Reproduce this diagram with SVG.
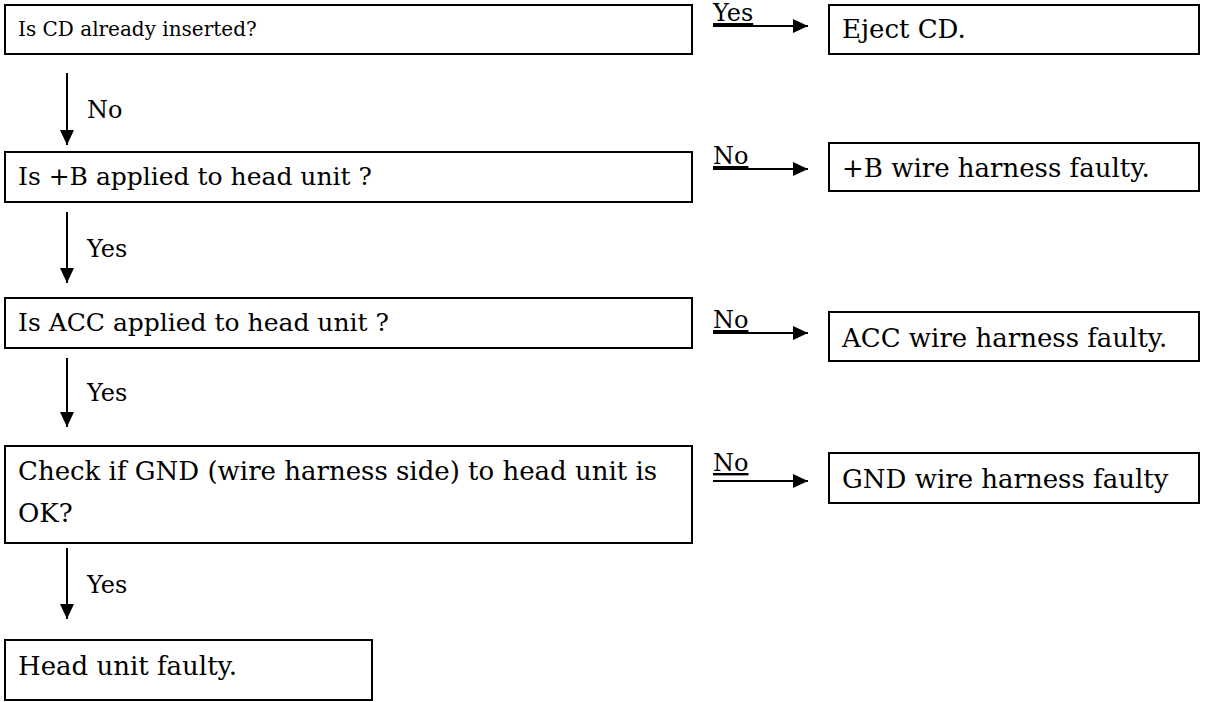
<svg xmlns="http://www.w3.org/2000/svg" width="1210" height="702" viewBox="0 0 1210 702">
<style>
.box{fill:#fff;stroke:#000;stroke-width:2}
.t{font-family:"DejaVu Serif","Liberation Serif",serif;font-size:26px;fill:#000}
.sm{font-size:20px}
.md{font-size:25px}
.lbl{font-family:"DejaVu Serif","Liberation Serif",serif;font-size:24px;fill:#000}
.u{text-decoration:underline}
.c{stroke:#000;stroke-width:2;fill:none;marker-end:url(#ah)}
</style>
<defs>
<marker id="ah" markerUnits="userSpaceOnUse" viewBox="0 0 15 14" refX="15" refY="7" markerWidth="15" markerHeight="14" orient="auto">
<path d="M0,0 L15,7 L0,14 Z" fill="#000"/>
</marker>
</defs>
<rect width="1210" height="702" fill="#fff"/>
<g id="n1"><rect class="box" x="5" y="5" width="687" height="49"/><text class="t sm" x="18" y="36">Is CD already inserted?</text></g>
<g id="n2"><rect class="box" x="829" y="5" width="370" height="49"/><text class="t" x="842" y="38">Eject CD.</text></g>
<g id="n3"><rect class="box" x="5" y="152" width="687" height="50"/><text class="t md" x="18" y="185">Is +B applied to head unit ?</text></g>
<g id="n4"><rect class="box" x="829" y="143" width="370" height="48"/><text class="t" x="842" y="177">+B wire harness faulty.</text></g>
<g id="n5"><rect class="box" x="5" y="298" width="687" height="50"/><text class="t md" x="18" y="331">Is ACC applied to head unit ?</text></g>
<g id="n6"><rect class="box" x="829" y="312" width="370" height="49"/><text class="t" x="842" y="347">ACC wire harness faulty.</text></g>
<g id="n7"><rect class="box" x="5" y="446" width="687" height="97"/><text class="t" x="18" y="480">Check if GND (wire harness side) to head unit is</text><text class="t" x="18" y="522">OK?</text></g>
<g id="n8"><rect class="box" x="829" y="453" width="370" height="50"/><text class="t" x="842" y="488">GND wire harness faulty</text></g>
<g id="n9"><rect class="box" x="5" y="640" width="367" height="60"/><text class="t" x="18" y="675">Head unit faulty.</text></g>
<g id="connectors">
<line class="c" x1="67" y1="73" x2="67" y2="145"/>
<text class="lbl" x="87" y="118">No</text>
<line class="c" x1="67" y1="212" x2="67" y2="283"/>
<text class="lbl" x="87" y="257">Yes</text>
<line class="c" x1="67" y1="358" x2="67" y2="427"/>
<text class="lbl" x="87" y="401">Yes</text>
<line class="c" x1="67" y1="548" x2="67" y2="619"/>
<text class="lbl" x="87" y="593">Yes</text>
<line class="c" x1="713" y1="26" x2="808" y2="26"/>
<text class="lbl u" x="713" y="21">Yes</text>
<line class="c" x1="713" y1="169" x2="808" y2="169"/>
<text class="lbl u" x="713" y="164">No</text>
<line class="c" x1="713" y1="333" x2="808" y2="333"/>
<text class="lbl u" x="713" y="328">No</text>
<line class="c" x1="713" y1="481" x2="808" y2="481"/>
<text class="lbl u" x="713" y="471">No</text>
</g>
</svg>
